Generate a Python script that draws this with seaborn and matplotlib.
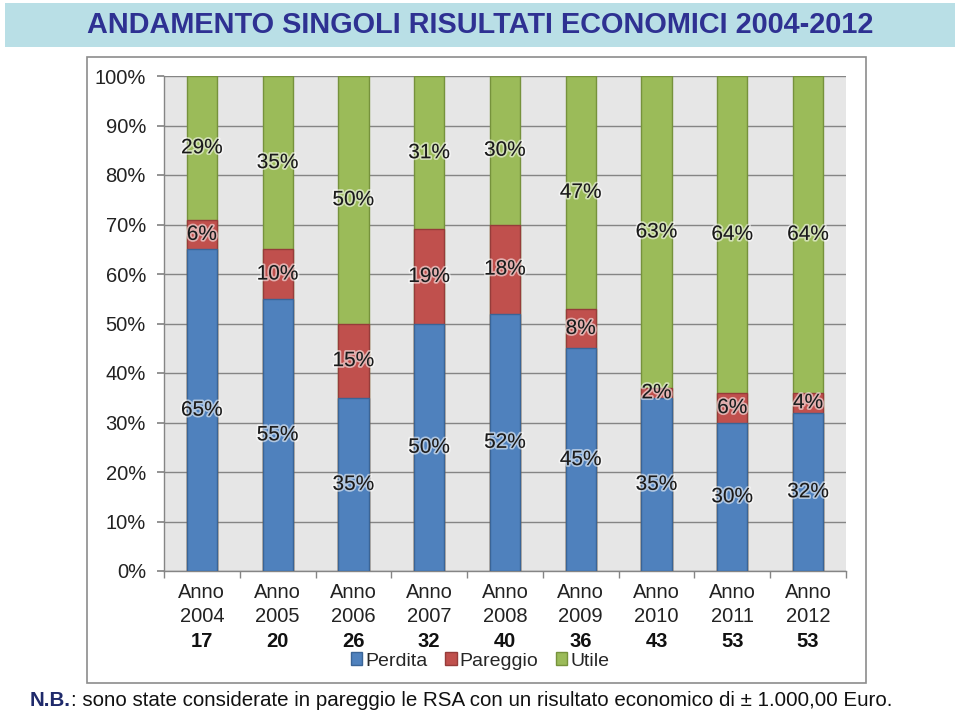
import matplotlib
matplotlib.use("Agg")
import matplotlib.pyplot as plt
import matplotlib.patheffects as pe
from matplotlib.patches import Rectangle, Patch
import seaborn as sns
import pandas as pd

years = ["2004", "2005", "2006", "2007", "2008", "2009", "2010", "2011", "2012"]
counts = [17, 20, 26, 32, 40, 36, 43, 53, 53]
perdita = [65, 55, 35, 50, 52, 45, 35, 30, 32]
pareggio = [6, 10, 15, 19, 18, 8, 2, 6, 4]
utile = [29, 35, 50, 31, 30, 47, 63, 64, 64]
series_names = ["Perdita", "Pareggio", "Utile"]
yticks = [0, 10, 20, 30, 40, 50, 60, 70, 80, 90, 100]

title = "ANDAMENTO SINGOLI RISULTATI ECONOMICI 2004-2012"
note_bold = "N.B."
note_rest = ": sono state considerate in pareggio le RSA con un risultato economico di \u00b1 1.000,00 Euro."

colors = {"Perdita": "#4F81BD", "Pareggio": "#C0504D", "Utile": "#9BBB59"}
edges = {"Perdita": "#3A6496", "Pareggio": "#963C3A", "Utile": "#76923C"}

sns.set_theme(style="white")
FONT = ["Liberation Sans Narrow", "Liberation Sans", "DejaVu Sans"]
plt.rcParams["font.family"] = FONT

labels = [f"Anno\n{y}" for y in years]
df = pd.DataFrame({
    "cat": labels,
    "Perdita": perdita,
    "Pareggio": pareggio,
    "Utile": utile,
})
df["top_par"] = df["Perdita"] + df["Pareggio"]
df["top_ut"] = df["top_par"] + df["Utile"]

fig = plt.figure(figsize=(9.6, 7.14), dpi=100)

# title banner
fig.patches.append(Rectangle((5 / 960, 1 - 47 / 714), 950 / 960, 44 / 714,
                             transform=fig.transFigure, facecolor="#B9DFE6",
                             edgecolor="none", zorder=-2))
fig.text(0.5, 1 - 25 / 714, title, ha="center", va="center", fontsize=20.8,
         fontweight="bold", color="#2E3192", family=FONT)

# chart frame
fig.patches.append(Rectangle((87 / 960, 1 - 683 / 714), 779 / 960, 626 / 714,
                             transform=fig.transFigure, facecolor="white",
                             edgecolor="#8C8C8C", linewidth=1.2, zorder=-2))

ax = fig.add_axes([164 / 960, 1 - 571 / 714, 682 / 960, 495 / 714])
ax.set_zorder(1)
ax.set_facecolor("#E6E6E6")

for col, name in [("top_ut", "Utile"), ("top_par", "Pareggio"), ("Perdita", "Perdita")]:
    sns.barplot(data=df, x="cat", y=col, order=labels, color=colors[name],
                width=0.4, edgecolor=edges[name], linewidth=1.0, ax=ax,
                saturation=1, zorder=3)

ax.set_ylim(0, 100)
ax.set_xlim(-0.5, len(years) - 0.5)
ax.set_yticks(yticks)
ax.set_yticklabels([f"{v}%" for v in yticks], fontsize=14.5, color="#222222")
ax.yaxis.grid(True, color="#858585", linewidth=1.0, zorder=0)
ax.set_axisbelow(True)
ax.set_xlabel("")
ax.set_ylabel("")
ax.set_xticks(range(len(years)))
ax.set_xticklabels(labels, fontsize=14.5, color="#222222", linespacing=1.3)
ax.set_xticks([i - 0.5 for i in range(len(years) + 1)], minor=True)
ax.tick_params(axis="x", which="major", length=0, pad=9)
ax.tick_params(axis="x", which="minor", length=5, color="#858585", direction="out", bottom=True)
ax.tick_params(axis="y", length=5, color="#858585", direction="out", left=True, pad=8)
for s in ["top", "right"]:
    ax.spines[s].set_visible(False)
for s in ["left", "bottom"]:
    ax.spines[s].set_color("#858585")
    ax.spines[s].set_linewidth(1.0)

stroke = [pe.withStroke(linewidth=2.5, foreground=(1, 1, 1, 0.55))]
for i in range(len(years)):
    segs = [(0, perdita[i]), (perdita[i], pareggio[i]), (perdita[i] + pareggio[i], utile[i])]
    for base, h in segs:
        ax.text(i, base + h / 2, f"{h}%", ha="center", va="center", fontsize=15,
                color="#1A1A1A", zorder=5, path_effects=stroke)
    ax.text(i, -0.143, str(counts[i]), transform=ax.get_xaxis_transform(),
            ha="center", va="center", fontsize=14.5, fontweight="bold", color="#111111")

handles = [Patch(facecolor=colors[n], edgecolor=edges[n], label=n) for n in series_names]
fig.legend(handles=handles, loc="center", bbox_to_anchor=(0.50, 1 - 661 / 714),
           ncol=3, frameon=False, fontsize=14, handlelength=0.6, handleheight=0.6,
           handletextpad=0.15, columnspacing=0.9)

t = fig.text(30 / 960, 1 - 700 / 714, note_bold, ha="left", va="center", fontsize=14.8,
             fontweight="bold", color="#1F2A6B", family=FONT)
fig.canvas.draw()
bb = t.get_window_extent()
fig.text(bb.x1 / 960, 1 - 700 / 714, note_rest, ha="left", va="center", fontsize=14.8,
         color="#111111", family=FONT)

fig.savefig("out.png", dpi=100)
